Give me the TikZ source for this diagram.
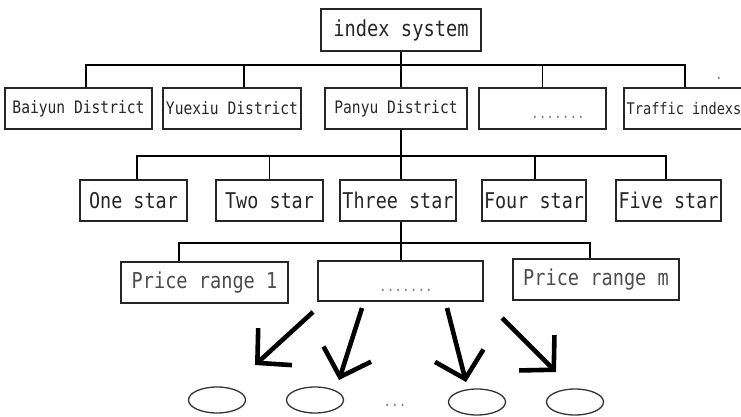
\documentclass[tikz,border=0pt]{standalone}
\usepackage{fontspec}
\usetikzlibrary{shapes.geometric,arrows.meta}
\newfontfamily\boxfont[FakeStretch=0.85]{DejaVu Sans Mono}
\begin{document}
\begin{tikzpicture}[x=1pt,y=-1pt,
  box/.style={draw=black!85, line width=1.3pt, inner sep=0pt, text=black!85},
  rowone/.style={box, font=\boxfont\fontsize{22}{26}\selectfont},
  rowtwo/.style={box, minimum height=41pt, font=\boxfont\fontsize{17.2}{20}\selectfont},
  rowthree/.style={box, minimum height=41pt, font=\boxfont\fontsize{21.7}{26}\selectfont},
  rowfour/.style={box, minimum height=41pt, text=black!70, font=\boxfont\fontsize{21.9}{26}\selectfont},
  link/.style={draw=black, line width=1.4pt},
  bigarrow/.style={line width=4.6pt, -{Straight Barb[length=24pt 0 0,width=50pt 0 0]}},
  leaf/.style={ellipse, draw=black!80, line width=1.3pt, minimum width=57pt, minimum height=26pt, inner sep=0pt},
  dots/.style={text=black!50, font=\boxfont\fontsize{15}{16}\selectfont, inner sep=0pt}
]
\useasboundingbox (0,0) rectangle (741,417);

% root
\node[rowone, minimum width=160pt, minimum height=42pt] (idx) at (401,30) {index system};

% districts
\node[rowtwo, minimum width=147pt] (b1) at (78.5,108.5) {Baiyun District};
\node[rowtwo, minimum width=138pt] (b2) at (232,108.5) {Yuexiu District};
\node[rowtwo, minimum width=142pt] (b3) at (396,108.5) {Panyu District};
\node[rowtwo, minimum width=127pt] (b4) at (542.5,108.5) {};
\node[dots, anchor=base] (b4d) at (558,118) {.......};
\node[rowtwo, minimum width=120pt, font=\boxfont\fontsize{16}{18}\selectfont] (b5) at (684,108.5) {Traffic indexs};
\node[dots, anchor=base] (spot) at (719,80) {.};

% star ratings
\node[rowthree, minimum width=107pt] (s1) at (133.5,200.5) {One star};
\node[rowthree, minimum width=107pt] (s2) at (269.5,200.5) {Two star};
\node[rowthree, minimum width=116pt] (s3) at (398,200.5) {Three star};
\node[rowthree, minimum width=104pt] (s4) at (534,200.5) {Four star};
\node[rowthree, minimum width=105pt] (s5) at (668.5,200.5) {Five star};

% price ranges
\node[rowfour, minimum width=167pt] (p1) at (204.5,282.5) {Price range 1};
\node[rowfour, minimum width=165pt, minimum height=40pt] (p2) at (400.5,281) {};
\node[dots, anchor=base] (p2d) at (406,291) {.......};
\node[rowfour, minimum width=166pt] (p3) at (596,279.5) {Price range m};

% leaves
\node[leaf] (e1) at (217,400) {};
\node[leaf] (e2) at (315,400) {};
\node[leaf] (e3) at (477,402) {};
\node[leaf] (e4) at (575,402) {};
\node[dots, anchor=base] (ed) at (395,406) {...};

% bus lines
\coordinate (bus1) at (0,65);
\coordinate (bus2) at (0,156);
\coordinate (bus3) at (0,243);

\draw[link] (idx.south) -- (idx.south |- bus1) -| ([xshift=7.5pt]b1.north);
\draw[link] (idx.south |- bus1) -| ([xshift=12pt]b2.north);
\draw[link] (idx.south) -- ([xshift=5pt]b3.north);
\draw[link] (idx.south |- bus1) -| (b4.north);
\draw[link] (idx.south |- bus1) -| ([xshift=1pt]b5.north);

\draw[link] ([xshift=5pt]b3.south) -- ([xshift=5pt]b3.south |- bus2) -| ([xshift=3.5pt]s1.north);
\draw[link] ([xshift=5pt]b3.south |- bus2) -| (s2.north);
\draw[link] ([xshift=5pt]b3.south) -- ([xshift=3pt]s3.north);
\draw[link] ([xshift=5pt]b3.south |- bus2) -| ([xshift=1pt]s4.north);
\draw[link] ([xshift=5pt]b3.south |- bus2) -| ([xshift=-2.5pt]s5.north);

\draw[link] ([xshift=3pt]s3.south) -- ([xshift=3pt]s3.south |- bus3) -| ([xshift=-25.5pt]p1.north);
\draw[link] ([xshift=3pt]s3.south |- bus3) -- ([xshift=0.5pt]p2.north);
\draw[link] ([xshift=3pt]s3.south |- bus3) -| ([xshift=-6pt]p3.north);

% heavy arrows towards the leaves
\coordinate (a1s) at (313,312); \coordinate (a1e) at (255,365);
\coordinate (a2s) at (362,308); \coordinate (a2e) at (339,380);
\coordinate (a3s) at (447,308); \coordinate (a3e) at (466,382);
\coordinate (a4s) at (502,318); \coordinate (a4e) at (556,372);
\draw[bigarrow] (a1s) -- (a1e);
\draw[bigarrow] (a2s) -- (a2e);
\draw[bigarrow] (a3s) -- (a3e);
\draw[bigarrow] (a4s) -- (a4e);
\end{tikzpicture}
\end{document}
